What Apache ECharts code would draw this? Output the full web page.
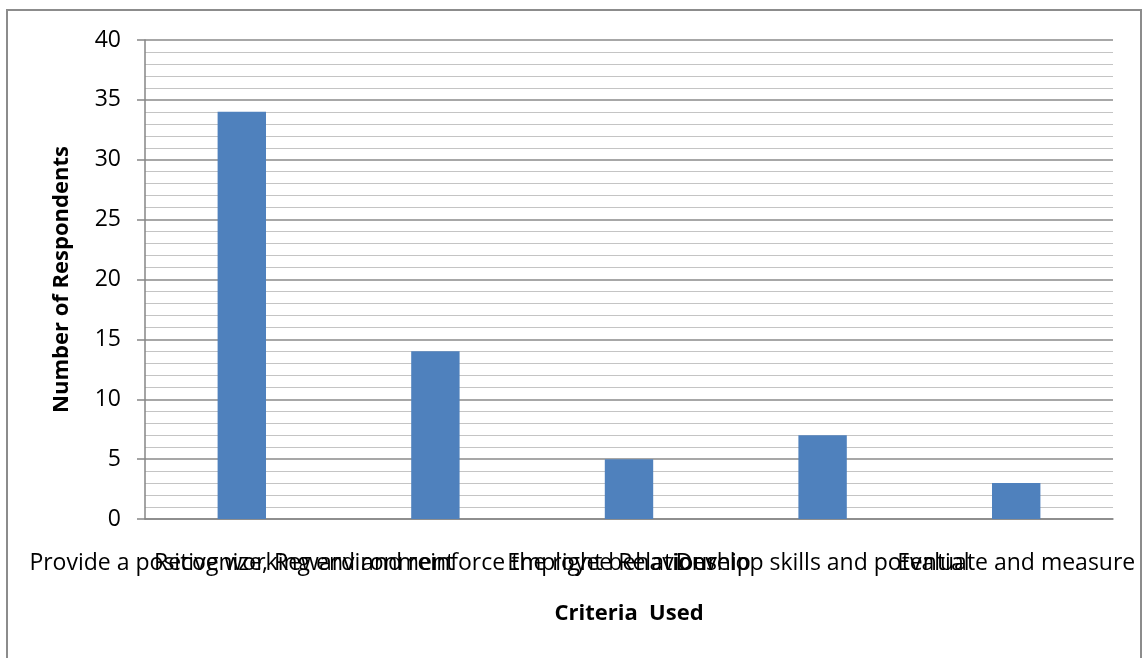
<!DOCTYPE html>
<html lang="en">
<head>
    <meta charset="UTF-8">
    <title>Criteria Used</title>
    <script src="https://cdn.jsdelivr.net/npm/echarts@6/dist/echarts.min.js"></script>
    <style>
        html, body { margin: 0; padding: 0; background: #fff; }
        #chart { width: 1145px; height: 658px; }
    </style>
</head>
<body>
    <div id="chart"></div>
    <script type="text/javascript">
        // data
        var categories = [
            'Provide a positive working environment',
            'Recognize, Reward and reinforce the right behaviour',
            'Employee Relationship',
            'Develop skills and potential',
            'Evaluate and measure'
        ];
        var respondents = [34, 14, 5, 7, 3];
        var yMin = 0, yMax = 40, yStep = 5;

        var font = 'Open Sans';
        var myChart = echarts.init(document.getElementById('chart'));
        var option = {
            animation: false,
            color: ['#4F81BD'],
            graphic: [{
                type: 'rect',
                shape: { x: 7, y: 10, width: 1134, height: 660 },
                style: { fill: 'none', stroke: '#8c8c8c', lineWidth: 2 },
                silent: true
            }],
            grid: {
                left: 145,
                right: 32,
                top: 40,
                bottom: 139,
                outerBoundsMode: 'none'
            },
            xAxis: {
                type: 'category',
                data: categories,
                name: 'Criteria  Used',
                nameLocation: 'middle',
                nameGap: 84,
                nameTextStyle: { fontFamily: font, fontWeight: 'bold', fontSize: 22, color: '#000' },
                axisLine: { lineStyle: { color: '#868686', width: 1.5 } },
                axisTick: { show: false },
                axisLabel: {
                    interval: 0,
                    hideOverlap: false,
                    margin: 33,
                    fontFamily: font,
                    fontSize: 23,
                    color: '#000'
                }
            },
            yAxis: {
                type: 'value',
                min: yMin,
                max: yMax,
                interval: yStep,
                name: 'Number of Respondents',
                nameLocation: 'middle',
                nameGap: 72,
                nameTextStyle: { fontFamily: font, fontWeight: 'bold', fontSize: 22, color: '#000' },
                axisLine: { show: true, lineStyle: { color: '#868686', width: 1.5 } },
                axisTick: { show: true, length: 8, lineStyle: { color: '#868686', width: 1.5 } },
                axisLabel: { margin: 24, fontFamily: font, fontSize: 23, color: '#000' },
                splitLine: { lineStyle: { color: '#8a8a8a', width: 1.5 } },
                minorTick: { show: false, splitNumber: 5 },
                minorSplitLine: { show: true, lineStyle: { color: '#c4c4c4', width: 1 } }
            },
            series: [{
                name: 'Respondents',
                type: 'bar',
                barWidth: '25%',
                data: respondents
            }]
        };
        myChart.setOption(option);
    </script>
</body>
</html>
